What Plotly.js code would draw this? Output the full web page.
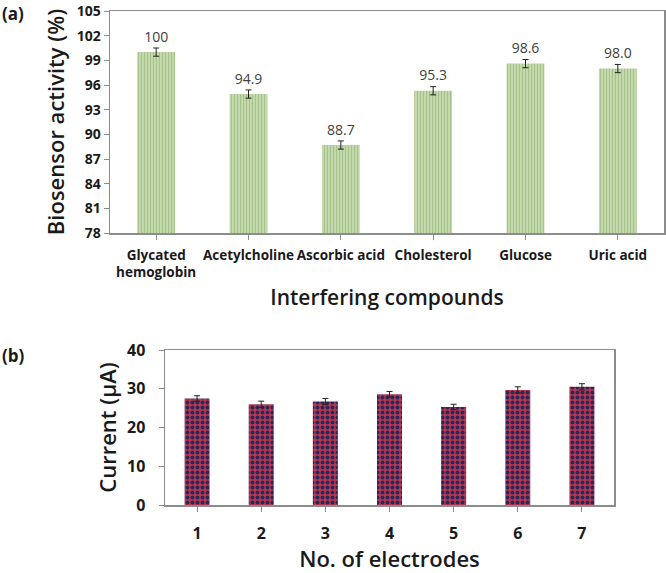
<!DOCTYPE html>
<html>
<head>
<meta charset="utf-8">
<script src="https://cdn.plot.ly/plotly-3.0.1.min.js"></script>
<style>
  html, body { margin: 0; padding: 0; background: #ffffff; }
  #chart { width: 666px; height: 573px; }
</style>
</head>
<body>
<div id="chart"></div>
<script>
// ---- Data (a): interference study ----
const compounds = ["Glycated<br>hemoglobin", "Acetylcholine", "Ascorbic acid", "Cholesterol", "Glucose", "Uric acid"];
const activity = [100, 94.9, 88.7, 95.3, 98.6, 98.0];
const activityErr = [0.5, 0.5, 0.5, 0.5, 0.5, 0.5];
const activityLabels = ["100", "94.9", "88.7", "95.3", "98.6", "98.0"];
const activityTicks = [78, 81, 84, 87, 90, 93, 96, 99, 102, 105];

// ---- Data (b): reproducibility ----
const electrodes = ["1", "2", "3", "4", "5", "6", "7"];
const current = [27.5, 26.0, 26.7, 28.6, 25.3, 29.7, 30.5];
const currentErr = [0.7, 0.8, 0.8, 0.7, 0.7, 0.8, 0.8];
const currentTicks = [0, 10, 20, 30, 40];

const W = 666, H = 573;
const FONT = "Open Sans, DejaVu Sans, sans-serif";
const frame = "#8c8c8c";

const traces = [
  {
    type: "bar", x: compounds, y: activity, xaxis: "x", yaxis: "y",
    width: 0.41,
    marker: {
      color: "#c3d7ad",
      line: { width: 0 },
      pattern: { shape: "|", size: 3, solidity: 0.3, fgcolor: "#a2bf85", bgcolor: "#c4d8ad", fillmode: "replace" }
    },
    error_y: { type: "data", array: activityErr, visible: true, color: "#222222", thickness: 1, width: 3 },
    hoverinfo: "skip", showlegend: false
  },
  {
    type: "scatter", mode: "text", x: compounds,
    y: activity.map((v, i) => v + activityErr[i] + 0.35),
    text: activityLabels, textposition: "top center",
    textfont: { family: FONT, size: 14, color: "#404040" },
    xaxis: "x", yaxis: "y", hoverinfo: "skip", showlegend: false, cliponaxis: false
  },
  {
    type: "bar", x: electrodes, y: current, xaxis: "x2", yaxis: "y2",
    width: 0.39,
    marker: {
      color: "#bb3650",
      line: { width: 0 },
      pattern: { shape: ".", size: 5, solidity: 0.5, fgcolor: "#2a2858", bgcolor: "#bb3650", fillmode: "replace" }
    },
    error_y: { type: "data", array: currentErr, visible: true, color: "#222222", thickness: 1, width: 3 },
    hoverinfo: "skip", showlegend: false
  }
];

const axisCommon = {
  showgrid: false, zeroline: false, showline: true, mirror: true,
  linecolor: frame, linewidth: 1.5, ticks: "outside", ticklen: 5, tickcolor: frame,
  automargin: false, fixedrange: true, ticklabeloverflow: "allow"
};

const layout = {
  width: W, height: H,
  margin: { l: 0, r: 0, t: 0, b: 0 },
  paper_bgcolor: "#ffffff", plot_bgcolor: "#ffffff",
  showlegend: false,
  font: { family: FONT, color: "#1a1a1a" },
  xaxis: Object.assign({}, axisCommon, {
    domain: [110 / W, 664 / W], anchor: "y", type: "category",
    range: [-0.5, 5.5], ticklabelstandoff: 4,
    tickfont: { family: FONT, size: 13.5, weight: 700, color: "#1a1a1a" },
    title: { text: "Interfering compounds", font: { family: FONT, size: 21, weight: 600, color: "#1a1a1a" }, standoff: 10 }
  }),
  yaxis: Object.assign({}, axisCommon, {
    domain: [1 - 233 / H, 1 - 11 / H], anchor: "x",
    range: [78, 105], tickmode: "array", tickvals: activityTicks,
    tickfont: { family: FONT, size: 14, weight: 700, color: "#1a1a1a" },
    title: { text: "Biosensor activity (%)", font: { family: FONT, size: 22, weight: 600, color: "#1a1a1a" }, standoff: 6 }
  }),
  xaxis2: Object.assign({}, axisCommon, {
    domain: [165 / W, 614 / W], anchor: "y2", type: "category",
    range: [-0.5, 6.5], ticklabelstandoff: 8,
    tickfont: { family: FONT, size: 16, weight: 700, color: "#1a1a1a" },
    title: { text: "No. of electrodes", font: { family: FONT, size: 22, weight: 600, color: "#1a1a1a" }, standoff: 18 }
  }),
  yaxis2: Object.assign({}, axisCommon, {
    domain: [1 - 505 / H, 1 - 350 / H], anchor: "x2",
    range: [0, 40], tickmode: "array", tickvals: currentTicks, ticklabelstandoff: 10,
    tickfont: { family: FONT, size: 16, weight: 700, color: "#1a1a1a" },
    title: { text: "Current (μA)", font: { family: FONT, size: 22, weight: 600, color: "#1a1a1a" }, standoff: 4 }
  }),
  annotations: [
    { text: "(a)", xref: "paper", yref: "paper", x: 0, y: 1 - 14 / H, xanchor: "left", yanchor: "middle",
      showarrow: false, font: { family: FONT, size: 17, weight: 700, color: "#1a1a1a" } },
    { text: "(b)", xref: "paper", yref: "paper", x: 0, y: 1 - 355 / H, xanchor: "left", yanchor: "middle",
      showarrow: false, font: { family: FONT, size: 17, weight: 700, color: "#1a1a1a" } }
  ]
};

Plotly.newPlot("chart", traces, layout, { displayModeBar: false, staticPlot: true });
</script>
</body>
</html>
